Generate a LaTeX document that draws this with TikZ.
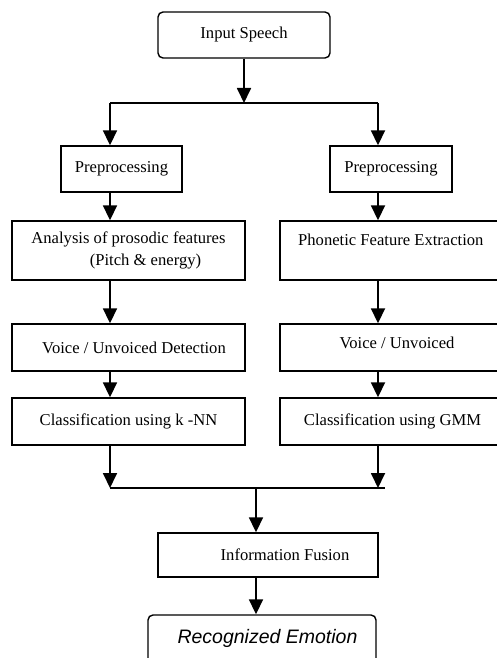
\documentclass[tikz,border=0pt]{standalone}
\usepackage{fontspec}
\setmainfont{Liberation Serif}
\newfontfamily\emofont{Liberation Sans}
\usetikzlibrary{arrows.meta,calc}
\begin{document}
\begin{tikzpicture}[x=1pt,y=-1pt,
  box/.style={draw, line width=1.4pt, inner sep=0pt, font=\fontsize{16.6}{22}\selectfont},
  txt/.style={inner sep=0pt, font=\fontsize{16.6}{22}\selectfont},
  arr/.style={line width=1.8pt, -{Triangle[width=14pt,length=15pt]}},
  ln/.style={line width=1.8pt}]
\useasboundingbox (0,0) rectangle (497,658);
\clip (0,0) rectangle (497,658);
% nodes
\node[box, rounded corners=5pt, minimum width=172pt, minimum height=46pt] (in) at (244,35) {Input Speech};
\coordinate (split) at (244,103);
\coordinate (lx) at (110,0);
\coordinate (rx) at (378,0);
\node[box, minimum width=121pt, minimum height=46pt] (pl) at (121.5,169) {Preprocessing};
\node[box, minimum width=122pt, minimum height=46pt] (pr) at (391,169) {Preprocessing};
\node[box, minimum width=233pt, minimum height=59pt, align=center] (an) at (128.5,250.5) {Analysis of prosodic features\\\hspace*{34pt}(Pitch \& energy)};
\node[box, minimum width=225pt, minimum height=59pt] (ph) at (392.5,250.5) {};
\node[txt, anchor=west] (pht) at (298,240) {Phonetic Feature Extraction};
\node[box, minimum width=233pt, minimum height=47pt] (vl) at (128.5,347.5) {\hspace*{11pt}Voice / Unvoiced Detection};
\node[box, minimum width=225pt, minimum height=47pt] (vr) at (392.5,347.5) {};
\node[txt] (vrt) at (397,343) {Voice / Unvoiced};
\node[box, minimum width=233pt, minimum height=47pt] (cl) at (128.5,421.5) {Classification using k -NN};
\node[box, minimum width=225pt, minimum height=47pt] (cr) at (392.5,421.5) {Classification using GMM};
\coordinate (merge) at (256,488);
\coordinate (mergeend) at (385,488);
\node[box, minimum width=220pt, minimum height=44pt] (fu) at (268,555) {\hspace*{34pt}Information Fusion};
\node[box, rounded corners=5pt, minimum width=228pt, minimum height=65pt] (re) at (262,647.5) {};
\node[inner sep=0pt, font=\emofont\itshape\fontsize{19.5}{22}\selectfont] (ret) at (267.5,638) {Recognized Emotion};
% connectors
\draw[arr] (in.south) -- (split);
\draw[ln] (split -| lx) -- (split -| rx);
\draw[arr] (split -| lx) -- (pl.north -| lx);
\draw[arr] (split -| rx) -- (pr.north -| rx);
\draw[arr] (pl.south -| lx) -- (an.north -| lx);
\draw[arr] (pr.south -| rx) -- (ph.north -| rx);
\draw[arr] (an.south -| lx) -- (vl.north -| lx);
\draw[arr] (ph.south -| rx) -- (vr.north -| rx);
\draw[arr] (vl.south -| lx) -- (cl.north -| lx);
\draw[arr] (vr.south -| rx) -- (cr.north -| rx);
\draw[arr] (cl.south -| lx) -- (merge -| lx);
\draw[arr] (cr.south -| rx) -- (merge -| rx);
\draw[ln] (merge -| lx) -- (mergeend);
\draw[arr] (merge) -- (fu.north -| merge);
\draw[arr] (fu.south -| merge) -- (re.north -| merge);
\end{tikzpicture}
\end{document}
